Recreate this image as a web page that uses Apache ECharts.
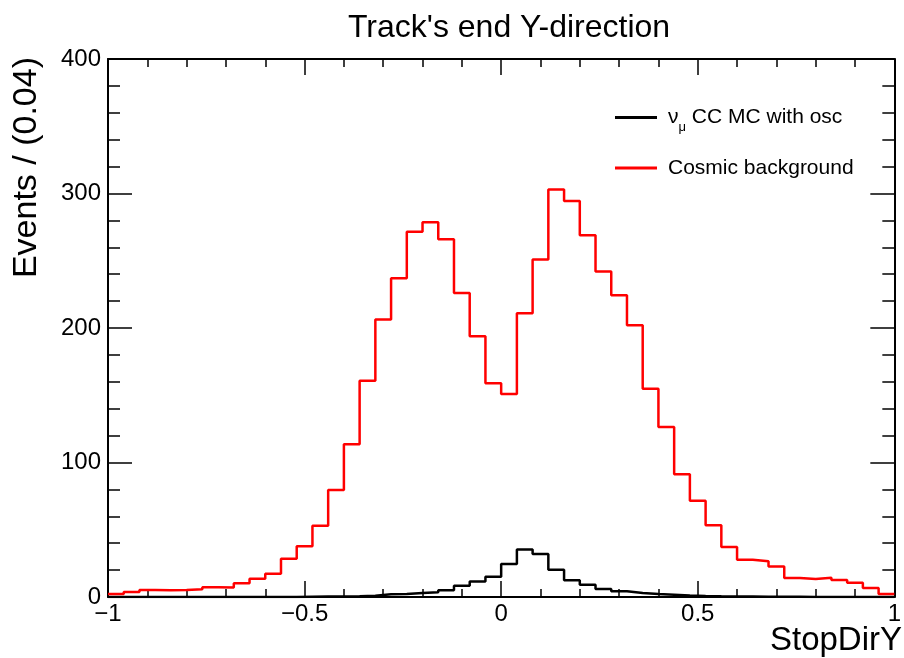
<!DOCTYPE html>
<html>
<head>
<meta charset="utf-8">
<script src="https://cdn.jsdelivr.net/npm/echarts@6/dist/echarts.min.js"></script>
<style>html,body{margin:0;padding:0;background:#fff;}#c{width:904px;height:658px;}</style>
</head>
<body>
<div id="c"></div>
<script>
const binLow = -1;
const binWidth = 0.04;
const cosmic = [2.2, 3.7, 5.2, 5.0, 5.2, 5.7, 7.2, 7.0, 10.2, 13.6,
  17.3, 28.5, 37.7, 53, 79.6, 113.5, 160.8, 206.4, 237, 271.6,
  278.6, 266, 226, 193.8, 159, 151, 211, 251, 303, 294.4,
  269, 242, 224.3, 202, 154.9, 126.4, 91.2, 71.6, 53.3, 37.2,
  27.7, 26.5, 22.7, 14.1, 13.4, 14.3, 12.6, 10.6, 6.7, 2.2];
const numu = [0, 0, 0, 0, 0, 0, 0, 0, 0, 0,
  0, 0, 0.2, 0.3, 0.4, 0.5, 0.9, 2, 2.2, 3,
  3.5, 5, 8.4, 11.6, 15, 24.6, 35.4, 32, 20.3, 12.4,
  9.2, 5.9, 4.3, 3, 2.2, 1.7, 1.2, 0.8, 0.5, 0.4,
  0.3, 0.2, 0.1, 0.1, 0, 0, 0, 0, 0, 0];
const seriesNames = ['νμ CC MC with osc', 'Cosmic background'];
const xTicks = [-1, -0.5, 0, 0.5, 1];
const yTicks = [0, 100, 200, 300, 400];

function steps(vals) {
  const pts = vals.map((v, i) => [+(binLow + i * binWidth).toFixed(4), v]);
  pts.push([+(binLow + vals.length * binWidth).toFixed(4), vals[vals.length - 1]]);
  return pts;
}
const FONT = '"Liberation Sans", Arial, Helvetica, sans-serif';
const fmtX = v => String(v).replace('-', '\u2212');

const chart = echarts.init(document.getElementById('c'), null, {renderer: 'canvas'});
const gridPos = {left: 108, right: 2, top: 59, bottom: 61};
const axBase = {
  axisLine: {show: true, onZero: false, lineStyle: {color: '#000', width: 2}},
  splitLine: {show: false}
};
chart.setOption({
  animation: false,
  backgroundColor: '#fff',
  title: {
    text: "Track's end Y-direction",
    left: 343, top: 7,
    textStyle: {fontFamily: FONT, fontSize: 32, fontWeight: 'normal', color: '#000'}
  },
  grid: gridPos,
  legend: {
    orient: 'vertical',
    left: 610, top: 102,
    itemWidth: 42, itemHeight: 3,
    itemGap: 24,
    icon: 'rect',
    data: seriesNames,
    formatter: function (name) {
      if (name === seriesNames[0]) return '{t|ν}{s|μ}{t| CC MC with osc}';
      return '{t|' + name + '}';
    },
    textStyle: {
      fontFamily: FONT, fontSize: 21, color: '#000', padding: [0, 0, 0, 6],
      rich: {
        t: {fontFamily: FONT, fontSize: 21, color: '#000', lineHeight: 24},
        s: {fontFamily: FONT, fontSize: 13, color: '#000', lineHeight: 24, verticalAlign: 'bottom', padding: [0, 0, -4, 0]}
      }
    }
  },
  xAxis: [
    Object.assign({}, axBase, {
      type: 'value', min: xTicks[0], max: xTicks[xTicks.length - 1], interval: 0.5,
      position: 'bottom',
      axisTick: {show: true, inside: true, length: 16, lineStyle: {color: '#000', width: 1.5}},
      minorTick: {show: true, splitNumber: 5, length: 8, lineStyle: {color: '#000', width: 1.5}},
      axisLabel: {show: true, formatter: fmtX, margin: 5, fontFamily: FONT, fontSize: 24, color: '#000', showMinLabel: true, showMaxLabel: true}
    }),
    Object.assign({}, axBase, {
      type: 'value', min: xTicks[0], max: xTicks[xTicks.length - 1], interval: 0.5,
      position: 'top',
      axisTick: {show: true, inside: true, length: 16, lineStyle: {color: '#000', width: 1.5}},
      minorTick: {show: true, splitNumber: 5, length: 8, lineStyle: {color: '#000', width: 1.5}},
      axisLabel: {show: false}
    })
  ],
  yAxis: [
    Object.assign({}, axBase, {
      type: 'value', min: yTicks[0], max: yTicks[yTicks.length - 1], interval: 100,
      position: 'left',
      axisTick: {show: true, inside: true, length: 24, lineStyle: {color: '#000', width: 1.5}},
      minorTick: {show: true, splitNumber: 5, length: 12, lineStyle: {color: '#000', width: 1.5}},
      axisLabel: {show: true, margin: 7, fontFamily: FONT, fontSize: 24, color: '#000'}
    }),
    Object.assign({}, axBase, {
      type: 'value', min: yTicks[0], max: yTicks[yTicks.length - 1], interval: 100,
      position: 'right',
      axisTick: {show: true, inside: true, length: 24, lineStyle: {color: '#000', width: 1.5}},
      minorTick: {show: true, splitNumber: 5, length: 12, lineStyle: {color: '#000', width: 1.5}},
      axisLabel: {show: false}
    })
  ],
  series: [
    {
      name: seriesNames[0], type: 'line', step: 'end', showSymbol: false, symbol: 'none',
      data: steps(numu), xAxisIndex: 0, yAxisIndex: 0,
      lineStyle: {color: '#000', width: 2.5}, itemStyle: {color: '#000'}, z: 3
    },
    {
      name: seriesNames[1], type: 'line', step: 'end', showSymbol: false, symbol: 'none',
      data: steps(cosmic), xAxisIndex: 0, yAxisIndex: 0,
      lineStyle: {color: '#ff0000', width: 2.5}, itemStyle: {color: '#ff0000'}, z: 4
    }
  ],
  graphic: [
    {
      type: 'text', x: 27, y: 57, rotation: Math.PI / 2,
      style: {text: 'Events / (0.04)', fontFamily: FONT, fontSize: 34, fill: '#000', align: 'right', verticalAlign: 'middle'}
    },
    {
      type: 'text', x: 902, y: 641,
      style: {text: 'StopDirY', fontFamily: FONT, fontSize: 33, fill: '#000', align: 'right', verticalAlign: 'middle'}
    }
  ]
});
</script>
</body>
</html>
